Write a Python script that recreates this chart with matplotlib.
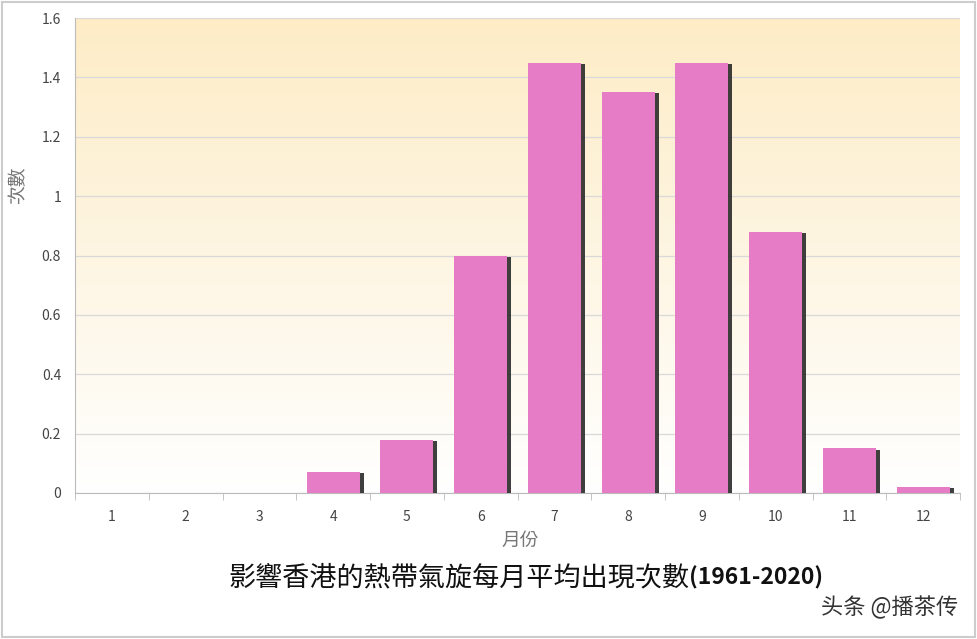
import matplotlib.pyplot as plt
import matplotlib.patheffects as pe
import numpy as np

plt.rcParams['font.family'] = ['Noto Sans CJK TC', 'DejaVu Sans']

months = ["1", "2", "3", "4", "5", "6", "7", "8", "9", "10", "11", "12"]
counts = [0, 0, 0, 0.07, 0.18, 0.80, 1.45, 1.35, 1.45, 0.88, 0.15, 0.02]
yticks = [0, 0.2, 0.4, 0.6, 0.8, 1, 1.2, 1.4, 1.6]
ytick_labels = ["0", "0.2", "0.4", "0.6", "0.8", "1", "1.2", "1.4", "1.6"]

fig = plt.figure(figsize=(9.77, 6.39), dpi=100)
ax = fig.add_axes([75 / 977, 1 - 493 / 639, 885 / 977, 475 / 639])

# background gradient, light orange at the top fading to white
grad = np.linspace(0, 1, 256).reshape(-1, 1)
top = np.array([253, 236, 198]) / 255
bot = np.array([255, 255, 255]) / 255
img = bot + (top - bot) * grad[:, :, None]
ax.imshow(img, extent=[-0.5, 11.5, 0, 1.6], origin="lower", aspect="auto", zorder=0)

x = np.arange(len(months))
ax.bar(x, counts, width=0.72, color="#e67cc6", zorder=3,
       path_effects=[pe.SimplePatchShadow(offset=(2.8, -0.8), shadow_rgbFace="#2a2a2a", alpha=0.9),
                     pe.Normal()])

ax.set_xlim(-0.5, 11.5)
ax.set_ylim(0, 1.6)
ax.set_yticks(yticks, ytick_labels)
ax.set_xticks(x, months)
ax.set_xticks(np.arange(-0.5, 12, 1), minor=True)
ax.tick_params(axis="x", which="major", length=0, pad=12, labelsize=10, labelcolor="#444444")
ax.tick_params(axis="x", which="minor", length=5, color="#bbbbbb", direction="out")
ax.tick_params(axis="y", length=0, pad=10, labelsize=10, labelcolor="#444444")
ax.yaxis.grid(True, color="#d9d9d9", linewidth=0.9)
for gl in ax.get_ygridlines():
    gl.set_zorder(1)
for s in ["top", "right"]:
    ax.spines[s].set_visible(False)
ax.spines["left"].set_color("#bbbbbb")
ax.spines["bottom"].set_color("#bbbbbb")

fig.text(18 / 977, 1 - 185 / 639, "次數", rotation=90, ha="center", va="center",
         fontsize=13.5, color="#777777")
fig.text(520 / 977, 1 - 540 / 639, "月份", ha="center", va="center",
         fontsize=13.5, color="#777777")
t1 = fig.text(228 / 977, 1 - 578 / 639, "影響香港的熱帶氣旋每月平均出現次數", ha="left", va="center",
              fontsize=19.5, color="#111111")
ax.annotate("(1961-2020)", xy=(1, 0.5), xycoords=t1, xytext=(0, 0), textcoords="offset points",
            ha="left", va="center", fontsize=16.5, fontweight="bold", color="#111111",
            annotation_clip=False)
fig.text(958 / 977, 1 - 607 / 639, "头条 @播茶传", ha="right", va="center",
         family=['Noto Sans CJK SC', 'DejaVu Sans'], fontsize=16, color="#333333")

# thin gray frame around the picture
fig.patches.append(plt.Rectangle((0.002, 0.003), 0.996, 0.994, transform=fig.transFigure,
                                 fill=False, edgecolor="#cccccc", linewidth=1.5))

fig.savefig("out.png", dpi=100)
